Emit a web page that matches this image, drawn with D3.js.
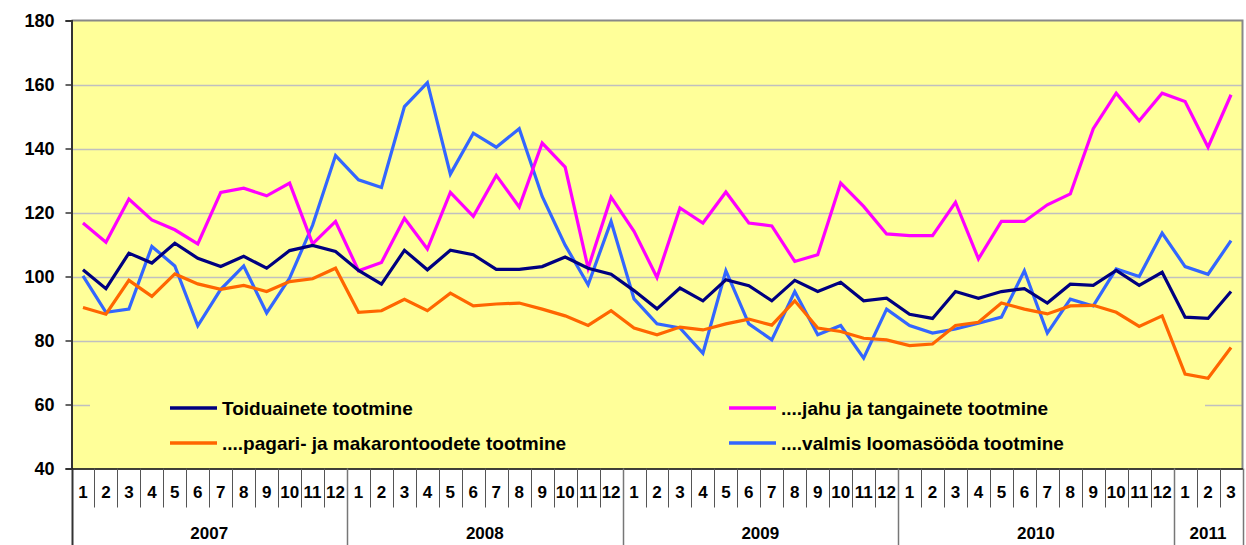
<!DOCTYPE html>
<html>
<head>
    <meta charset="utf-8">
    <title>Toiduainete tootmine</title>
    <style>
        body { margin: 0; background: #fff; }
        text { font-family: Arial, "Liberation Sans", sans-serif; font-weight: bold; fill: #000; }
    </style>
</head>
<body>
<script src="https://d3js.org/d3.v7.min.js"></script>
<script>
    // month labels: 2007-2010 full years, 2011 Jan-Mar
    const years = [
        {label: '2007', months: 12},
        {label: '2008', months: 12},
        {label: '2009', months: 12},
        {label: '2010', months: 12},
        {label: '2011', months: 3}
    ];
    const monthLabels = years.flatMap(y => d3.range(1, y.months + 1).map(String));

    const toiduained = [102.1, 96.2, 107.3, 104.2, 110.4, 105.7, 103.1, 106.3, 102.6, 108.1, 109.7, 107.8,
        101.9, 97.6, 108.2, 102.1, 108.2, 106.8, 102.2, 102.2, 103.1, 106.1, 102.6, 100.7,
        95.6, 89.9, 96.4, 92.4, 99.0, 97.1, 92.4, 98.8, 95.3, 98.2, 92.4, 93.2,
        88.2, 86.9, 95.3, 93.2, 95.3, 96.2, 91.7, 97.6, 97.2, 101.9, 97.2, 101.3,
        87.3, 86.9, 95.3];
    const jahu = [116.7, 110.7, 124.2, 117.7, 114.6, 110.2, 126.3, 127.6, 125.2, 129.2, 110.2, 117.2,
        101.8, 104.4, 118.2, 108.6, 126.3, 118.8, 131.6, 121.7, 141.7, 134.2, 102.6, 124.8,
        114.1, 99.7, 121.4, 116.7, 126.4, 116.7, 115.8, 104.7, 106.8, 129.2, 121.9, 113.3,
        112.8, 112.8, 123.2, 105.5, 117.2, 117.2, 122.4, 125.8, 146.2, 157.3, 148.7, 157.3,
        154.7, 140.4, 156.8];
    const pagari = [90.3, 88.2, 98.8, 93.8, 100.8, 97.7, 96.0, 97.2, 95.3, 98.4, 99.3, 102.6,
        88.8, 89.3, 92.9, 89.3, 94.8, 90.8, 91.4, 91.7, 89.8, 87.7, 84.7, 89.3,
        83.9, 81.8, 84.2, 83.3, 85.2, 86.7, 84.8, 92.4, 83.9, 82.8, 80.7, 80.2,
        78.4, 78.9, 84.7, 85.7, 91.7, 89.8, 88.3, 90.8, 91.0, 88.8, 84.4, 87.7,
        69.5, 68.2, 77.8];
    const loomasoot = [100.2, 88.8, 89.8, 109.4, 103.3, 84.6, 96.0, 103.3, 88.6, 99.5, 116.0, 137.8,
        130.2, 127.8, 153.1, 160.6, 132.0, 144.8, 140.4, 146.2, 125.0, 109.8, 97.4, 117.2,
        93.0, 85.2, 83.9, 76.0, 101.8, 85.2, 80.2, 95.3, 81.8, 84.7, 74.5, 89.8,
        84.7, 82.3, 83.6, 85.4, 87.3, 101.8, 82.3, 92.9, 90.8, 102.4, 100.0, 113.6,
        103.1, 100.7, 111.2];

    const yTicks = [40, 60, 80, 100, 120, 140, 160, 180];

    const series = [
        {name: 'Toiduainete tootmine', values: toiduained, color: '#000080'},
        {name: '....jahu ja tangainete tootmine', values: jahu, color: '#FF00FF'},
        {name: '....pagari- ja makarontoodete tootmine', values: pagari, color: '#FF6600'},
        {name: '....valmis loomasööda tootmine', values: loomasoot, color: '#3366FF'}
    ];

    const W = 1246, H = 545;
    const M = {left: 71.5, right: 3.5, top: 20.5, bottom: 76.5};
    const plotW = W - M.left - M.right, plotH = H - M.top - M.bottom;
    const FONT = 'Arial, "Liberation Sans", sans-serif';

    const svg = d3.select('body').append('svg')
        .attr('width', W)
        .attr('height', H);

    const x = d3.scaleBand()
        .domain(d3.range(monthLabels.length))
        .range([M.left, M.left + plotW]);

    const y = d3.scaleLinear()
        .domain([40, 180])
        .range([M.top + plotH, M.top]);

    // plot background
    svg.append('rect')
        .attr('x', M.left).attr('y', M.top)
        .attr('width', plotW).attr('height', plotH)
        .attr('fill', '#FFFF99');

    // gridlines
    svg.append('g')
        .selectAll('line')
        .data(yTicks.slice(1, -1))
        .join('line')
        .attr('x1', M.left).attr('x2', M.left + plotW)
        .attr('y1', d => Math.round(y(d)) + 0.5).attr('y2', d => Math.round(y(d)) + 0.5)
        .attr('stroke', '#C0C0C0')
        .attr('stroke-width', 1.5);

    // top and right border
    svg.append('path')
        .attr('d', `M${M.left},${M.top}H${M.left + plotW}V${M.top + plotH}`)
        .attr('fill', 'none')
        .attr('stroke', '#888')
        .attr('stroke-width', 2);

    // y axis
    const yAxis = svg.append('g')
        .attr('transform', `translate(${M.left},0)`)
        .call(d3.axisLeft(y).tickValues(yTicks).tickSize(6).tickPadding(11));
    yAxis.select('.domain').attr('stroke', '#333').attr('stroke-width', 2);
    yAxis.selectAll('.tick line').attr('stroke', '#333').attr('stroke-width', 1.5);
    yAxis.selectAll('.tick text')
        .style('font-family', FONT)
        .style('font-weight', 'bold')
        .style('font-size', '18px')
        .attr('fill', '#000');

    // x axis: month labels
    const xAxis = svg.append('g')
        .attr('transform', `translate(0,${M.top + plotH})`)
        .call(d3.axisBottom(x).tickSize(0).tickPadding(19).tickFormat(i => monthLabels[i]));
    xAxis.select('.domain').attr('stroke', '#000').attr('stroke-width', 1.5);
    xAxis.selectAll('.tick text')
        .style('font-family', FONT)
        .style('font-weight', 'bold')
        .style('font-size', '17px')
        .attr('dy', '0.6em')
        .attr('fill', '#000');

    // month separators
    const bottom = M.top + plotH;
    svg.append('g')
        .selectAll('line')
        .data(d3.range(1, monthLabels.length))
        .join('line')
        .attr('x1', i => Math.round(x(i)) + 0.5).attr('x2', i => Math.round(x(i)) + 0.5)
        .attr('y1', bottom).attr('y2', bottom + 39)
        .attr('stroke', '#555').attr('stroke-width', 1);

    // year separators and labels
    let start = 0;
    const yearData = years.map(yr => {
        const d = {label: yr.label, start, end: start + yr.months};
        start += yr.months;
        return d;
    });
    const bx = i => (i >= monthLabels.length ? x(monthLabels.length - 1) + x.bandwidth() : x(i));
    svg.append('g')
        .selectAll('line')
        .data([0, ...yearData.map(d => d.end)])
        .join('line')
        .attr('x1', i => Math.round(bx(i)) + 0.5).attr('x2', i => Math.round(bx(i)) + 0.5)
        .attr('y1', bottom).attr('y2', H)
        .attr('stroke', i => i === 0 ? '#333' : '#777').attr('stroke-width', i => i === 0 ? 2 : 1.5);
    svg.append('g')
        .selectAll('text')
        .data(yearData)
        .join('text')
        .attr('x', d => (bx(d.start) + bx(d.end)) / 2)
        .attr('y', bottom + 70)
        .attr('text-anchor', 'middle')
        .style('font-size', '17px')
        .text(d => d.label);

    // legend (covers gridline)
    const legend = svg.append('g');
    legend.append('rect')
        .attr('x', 90).attr('y', 387)
        .attr('width', 1115).attr('height', 74)
        .attr('fill', '#FFFF99');
    const legendPos = [
        {lx: 170, ly: 408},
        {lx: 729, ly: 408},
        {lx: 170, ly: 443},
        {lx: 729, ly: 443}
    ];
    series.forEach((s, k) => {
        const p = legendPos[k];
        legend.append('line')
            .attr('x1', p.lx).attr('x2', p.lx + 47)
            .attr('y1', p.ly).attr('y2', p.ly)
            .attr('stroke', s.color).attr('stroke-width', 3.5);
        legend.append('text')
            .attr('x', p.lx + 52).attr('y', p.ly + 7)
            .style('font-size', '19px')
            .text(s.name);
    });

    // series lines
    const line = d3.line()
        .x((d, i) => x(i) + x.bandwidth() / 2)
        .y(d => y(d));
    const order = [3, 1, 2, 0];
    svg.append('g')
        .selectAll('path')
        .data(order.map(k => series[k]))
        .join('path')
        .attr('d', s => line(s.values))
        .attr('fill', 'none')
        .attr('stroke', s => s.color)
        .attr('stroke-width', 3.2)
        .attr('stroke-linejoin', 'miter');
</script>
</body>
</html>
